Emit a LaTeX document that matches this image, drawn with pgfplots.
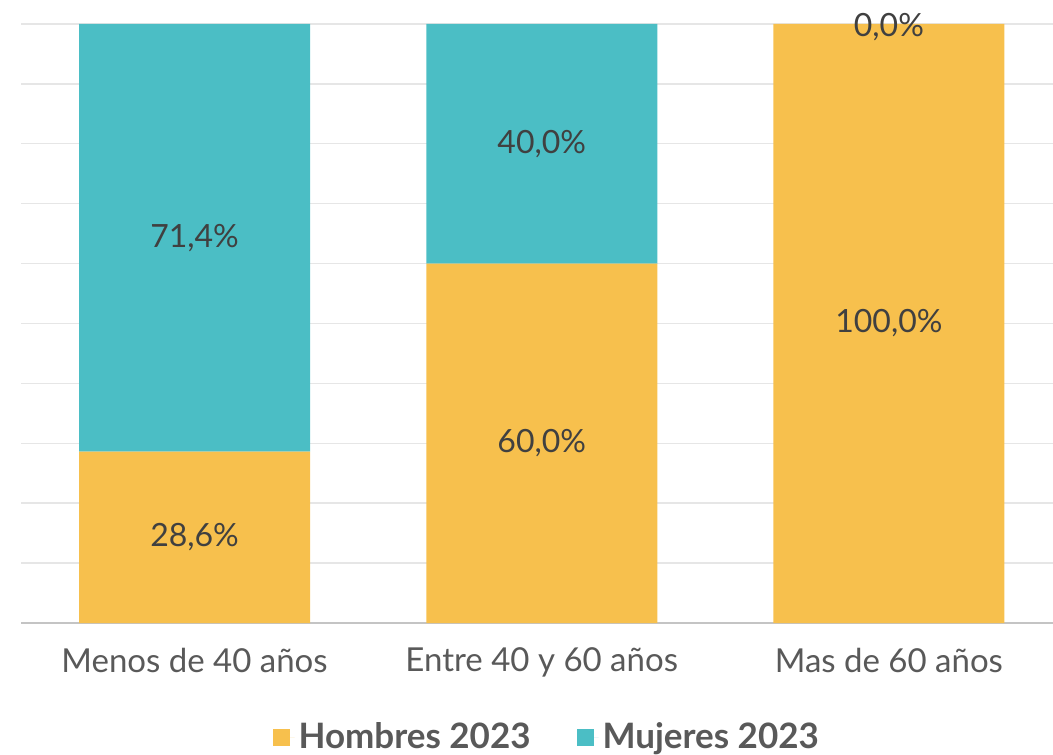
\documentclass[border=0pt]{standalone}
\usepackage{pgfplots}
\pgfplotsset{compat=1.18}
\usepackage{pgfplotstable}
\usepackage{fontspec}
\setmainfont{Lato}

\definecolor{hombres}{RGB}{247,192,77}
\definecolor{mujeres}{RGB}{75,190,197}
\definecolor{gridc}{RGB}{230,230,230}
\definecolor{axisc}{RGB}{196,196,196}
\definecolor{txt}{RGB}{89,89,89}
\definecolor{lbl}{RGB}{64,64,64}

% segment values
\pgfplotstableread{
x hom muj
0 28.6 71.4
1 60.0 40.0
2 100.0 0.0
}\datos

% label positions (mid of each segment) and values
\pgfplotstableread{
x y v
0 14.3 28.6
1 30.0 60.0
2 50.0 100.0
0 64.3 71.4
1 80.0 40.0
2 99.5 0.0
}\etiquetas

\begin{document}
\begin{tikzpicture}
\useasboundingbox (-10.5pt,-65.5pt) rectangle (516pt,311.5pt);
\begin{axis}[
    at={(0pt,0pt)}, anchor=south west,
    scale only axis,
    width=520.75pt, height=299.5pt,
    xmin=-0.5, xmax=2.5,
    ymin=0, ymax=100,
    ybar stacked,
    bar width=115.5pt,
    axis x line*=bottom,
    axis y line*=left,
    y axis line style={draw=none},
    x axis line style={draw=axisc, line width=0.8pt, -},
    xtick={0,1,2},
    xticklabels={Menos de 40 años, Entre 40 y 60 años, Mas de 60 años},
    xtick style={draw=none},
    xticklabel style={font=\fontsize{16.5}{19}\selectfont, text=txt, yshift=-9pt},
    ytick={0,10,...,100},
    yticklabels={},
    ytick style={draw=none},
    ymajorgrids=true,
    grid style={draw=gridc, line width=0.7pt},
    legend columns=2,
    legend style={draw=none, at={(0.5,0)}, anchor=center, yshift=-57pt, xshift=3pt,
        font=\bfseries\fontsize{17.5}{20}\selectfont, text=txt,
        /tikz/every even column/.append style={column sep=21pt}},
    legend image code/.code={\fill (0pt,-4.25pt) rectangle (8.5pt,4.25pt);
        \path (8.5pt,0pt) -- (11pt,0pt);},
]
\addplot[fill=hombres, draw=none] table[x=x, y=hom] {\datos};
\addlegendentry{Hombres 2023}
\addplot[fill=mujeres, draw=none] table[x=x, y=muj] {\datos};
\addlegendentry{Mujeres 2023}
\end{axis}
\begin{axis}[
    at={(0pt,0pt)}, anchor=south west,
    scale only axis,
    width=520.75pt, height=299.5pt,
    xmin=-0.5, xmax=2.5,
    ymin=0, ymax=100,
    axis lines=none,
    clip=false,
    /pgf/number format/assume math mode=true,
]
\addplot[draw=none, mark=none,
    nodes near coords={\pgfmathprintnumber[fixed,zerofill,precision=1,use comma]{\pgfplotspointmeta}\%},
    point meta=explicit,
    every node near coord/.append style={anchor=center, font=\fontsize{16}{19}\selectfont, text=lbl}]
    table[x=x, y=y, meta=v] {\etiquetas};
\end{axis}
\end{tikzpicture}
\end{document}
